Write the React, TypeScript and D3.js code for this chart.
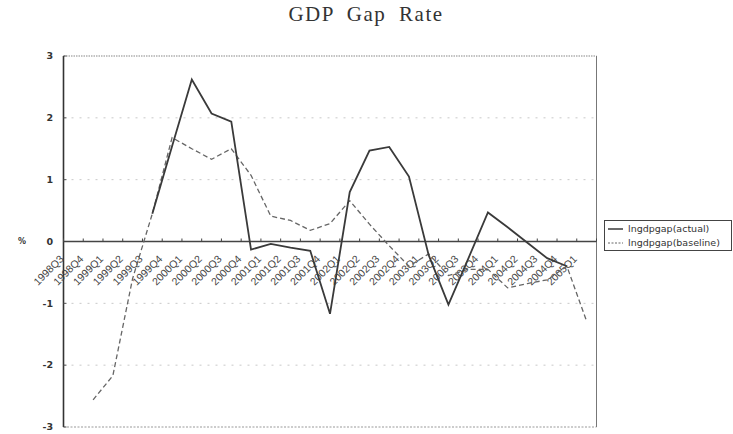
import React from "react";
import * as d3 from "d3";

const categories: string[] = [
  "1998Q3", "1998Q4",
  "1999Q1", "1999Q2", "1999Q3", "1999Q4",
  "2000Q1", "2000Q2", "2000Q3", "2000Q4",
  "2001Q1", "2001Q2", "2001Q3", "2001Q4",
  "2002Q1", "2002Q2", "2002Q3", "2002Q4",
  "2003Q1", "2003Q2", "2003Q3", "2003Q4",
  "2004Q1", "2004Q2", "2004Q3", "2004Q4",
  "2005Q1",
];

const actual: (number | null)[] = [
  null, null, null, null, 0.45, 1.54,
  2.62, 2.07, 1.94, -0.13,
  -0.04, -0.10, -0.15, -1.17,
  0.80, 1.47, 1.53, 1.05,
  -0.22, -1.02, -0.28, 0.47,
  0.23, -0.02, -0.27, -0.40,
  null,
];

const baseline: (number | null)[] = [
  null, -2.56, -2.17, -0.60, 0.45, 1.68,
  1.50, 1.33, 1.50, 1.07,
  0.41, 0.34, 0.18, 0.29,
  0.66, 0.28, -0.07, -0.40,
  -0.20, -0.55, -0.45, -0.45,
  -0.75, -0.68, -0.62, -0.40,
  -1.29,
];

const yTicks: number[] = [3, 2, 1, 0, -1, -2, -3];
const gridValues: number[] = [2, 1, -1, -2];

const seriesNames = ["lngdpgap(actual)", "lngdpgap(baseline)"];
const title = "GDP Gap Rate";

export default function App() {
  const W = 733;
  const H = 434;
  const left = 63.5;
  const right = 596.5;
  const top = 56;
  const bottom = 427;

  const x = d3.scaleBand<string>().domain(categories).range([left, right]).padding(0);
  const y = d3.scaleLinear().domain([-3, 3]).range([bottom, top]);
  const cx = (i: number) => (x(categories[i]) as number) + x.bandwidth() / 2;

  const lineGen = d3
    .line<number | null>()
    .defined((d) => d !== null)
    .x((_, i) => cx(i))
    .y((d) => y(d as number));

  const tickXs = d3.range(categories.length + 1).map((k) => left + k * x.bandwidth());

  return (
    <svg
      width={W}
      height={H}
      style={{ position: "absolute", left: 0, top: 0, background: "#fff" }}
    >
      <text
        x={366}
        y={21}
        textAnchor="middle"
        fontFamily="'Liberation Serif', serif"
        fontSize={21}
        letterSpacing={1.5}
        wordSpacing={6}
        fill="#333"
      >
        {title}
      </text>

      {/* grid */}
      {gridValues.map((v) => (
        <line
          key={"g" + v}
          x1={left}
          x2={right}
          y1={y(v)}
          y2={y(v)}
          stroke="#c8c8c8"
          strokeWidth={1}
          strokeDasharray="2,6"
        />
      ))}
      {/* top & bottom dotted borders */}
      <line x1={left} x2={right} y1={y(3)} y2={y(3)} stroke="#888" strokeWidth={1.2} strokeDasharray="1.5,1" />
      <line x1={left} x2={right} y1={y(-3)} y2={y(-3)} stroke="#999" strokeWidth={1} strokeDasharray="2,1.5" />
      {/* right border */}
      <line x1={right} x2={right} y1={top} y2={bottom} stroke="#777" strokeWidth={1} />
      {/* left axis */}
      <line x1={left} x2={left} y1={top} y2={bottom} stroke="#333" strokeWidth={1.6} />

      {/* y tick labels */}
      {yTicks.map((v) => (
        <g key={"yt" + v}>
          <line x1={left} x2={left + 3} y1={y(v)} y2={y(v)} stroke="#555" strokeWidth={1} />
          <text
            x={53}
            y={y(v)}
            dy="0.35em"
            textAnchor="end"
            fontFamily="'DejaVu Sans', sans-serif"
            fontSize={9.5}
            fontWeight="bold"
            fill="#333"
          >
            {v}
          </text>
        </g>
      ))}
      <text x={22} y={y(0)} dy="0.35em" textAnchor="middle" fontFamily="'DejaVu Sans', sans-serif" fontSize={8} fontWeight="bold" fill="#333">
        %
      </text>

      {/* zero axis */}
      <line x1={left} x2={right} y1={y(0)} y2={y(0)} stroke="#444" strokeWidth={1.6} />
      {tickXs.map((tx, k) => (
        <line key={"tk" + k} x1={tx} x2={tx} y1={y(0)} y2={y(0) - 3} stroke="#444" strokeWidth={1} />
      ))}

      {/* category labels */}
      {categories.map((c, i) => {
        const px = cx(i) - 9;
        const py = y(0) + 18;
        return (
          <text
            key={c}
            x={px}
            y={py}
            textAnchor="end"
            transform={`rotate(-45, ${px}, ${py})`}
            fontFamily="'Liberation Sans', sans-serif"
            fontSize={10.5}
            fill="#444"
          >
            {c}
          </text>
        );
      })}

      {/* series */}
      <path d={lineGen(baseline) || ""} fill="none" stroke="#666" strokeWidth={1.3} strokeDasharray="5,3" />
      <path d={lineGen(actual) || ""} fill="none" stroke="#3a3a3a" strokeWidth={1.8} />

      {/* legend */}
      <rect x={604.5} y={220.5} width={127} height={30} fill="#fff" stroke="#444" strokeWidth={1} />
      <line x1={608} x2={623} y1={229} y2={229} stroke="#3a3a3a" strokeWidth={1.5} />
      <line x1={608} x2={623} y1={243} y2={243} stroke="#666" strokeWidth={1} strokeDasharray="2,1.5" />
      <text x={628} y={229} dy="0.35em" fontFamily="'DejaVu Sans', sans-serif" fontSize={9.5} fill="#333">
        {seriesNames[0]}
      </text>
      <text x={628} y={243} dy="0.35em" fontFamily="'DejaVu Sans', sans-serif" fontSize={9.5} fill="#333">
        {seriesNames[1]}
      </text>
    </svg>
  );
}
